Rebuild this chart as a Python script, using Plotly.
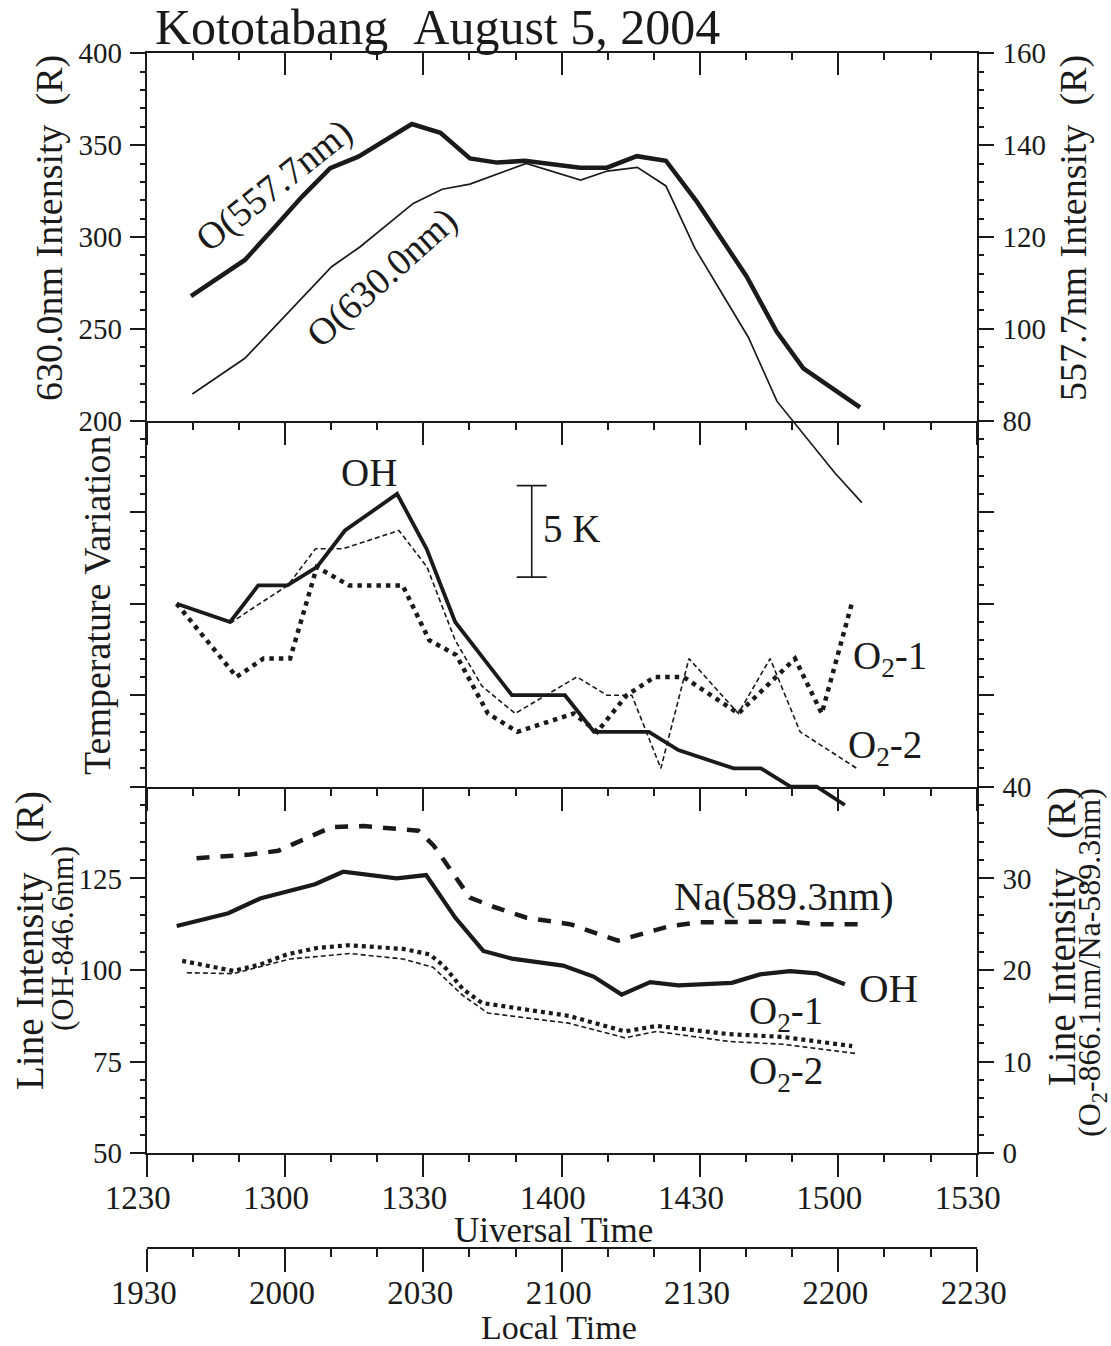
import plotly.graph_objects as go

# ---------------------------------------------------------------
# Kototabang airglow, August 5, 2004
# time axis: minutes after 12:30 UT (local time = UT + 7 h)
# ---------------------------------------------------------------

# top panel: O(557.7nm) intensity (R, right axis)
t_5577 = [9.6, 21.3, 27.8, 33.7, 39.8, 45.9, 57.5, 63.7, 70.1, 76.0, 82.0,
          94.0, 99.8, 106.3, 112.6, 119.3, 130.1, 136.6, 142.4, 154.7]
i_5577 = [107.1, 115.0, 122.2, 128.8, 135.0, 137.5, 144.6, 142.7, 137.1, 136.2,
          136.6, 135.1, 135.1, 137.6, 136.6, 127.7, 111.4, 99.4, 91.4, 82.9]

# top panel: O(630.0nm) intensity (R, left axis)
t_6300 = [9.9, 21.3, 40.1, 46.3, 57.8, 64.1, 70.1, 82.3, 94.1, 99.9, 106.4,
          112.6, 118.9, 130.5, 136.7, 149.3, 155.1]
i_6300 = [214.5, 234.0, 283.8, 294.7, 318.3, 326.0, 328.8, 340.1, 331.0, 335.9,
          337.9, 327.8, 293.8, 245.3, 210.5, 171.4, 155.4]

# middle panel: rotational temperature variation (K, relative)
t_oh_T = [6.5, 18.1, 24.2, 30.5, 36.9, 43.0, 54.3, 60.7, 66.9, 79.2, 90.7,
          97.0, 108.9, 115.3, 127.3, 133.2, 139.6, 145.3, 151.4]
oh_T = [10, 9, 11, 11, 12, 14, 16, 13, 9, 5, 5, 3, 3, 2, 1, 1, 0, 0, -1]

t_o21_T = [6.5, 19.5, 25.3, 31.1, 36.9, 43.9, 55.5, 61.3, 67.1, 74.0, 80.4,
           92.6, 97.7, 104.1, 110.2, 116.4, 128.3, 140.6, 146.4, 152.9]
o21_T = [10, 6, 7, 7, 12, 11, 11, 8, 7.2, 4, 3, 4, 3, 5, 6, 6, 4, 7, 4, 10]

t_o22_T = [6.5, 18.5, 24.5, 30.6, 36.6, 42.6, 54.7, 60.8, 66.9, 72.7, 79.9,
           93.3, 99.8, 105.2, 111.5, 117.6, 128.3, 135.2, 141.7, 154.0]
o22_T = [10, 9, 10, 11, 13, 13, 14, 12, 8, 5.5, 4, 6, 5, 5, 1, 7, 4, 7, 3, 1]

# 5 K scale bar (time, lower end, length)
bar_t, bar_low, bar_len = 83.5, 11.45, 5.0

# bottom panel: line intensities
t_oh_I = [6.5, 17.7, 24.6, 30.4, 36.5, 42.6, 54.2, 60.6, 66.9, 73.0, 79.2,
          90.3, 96.9, 103.0, 109.2, 115.3, 126.9, 133.0, 139.5, 145.3, 151.4]
oh_I = [112.0, 115.5, 119.5, 121.3, 123.4, 126.8, 125.0, 125.9, 114.3, 105.2,
        103.1, 101.2, 98.2, 93.3, 96.7, 95.8, 96.5, 98.8, 99.7, 99.1, 96.1]

t_na = [10.8, 22.4, 28.5, 34.7, 40.1, 47.0, 58.9, 62.2, 70.1, 75.2, 82.4,
        91.8, 102.2, 113.5, 120.0, 138.8, 145.3, 155.8]
na_I = [32.2, 32.6, 33.0, 34.4, 35.6, 35.7, 35.2, 33.6, 27.9, 26.9, 25.7,
        25.0, 23.2, 24.8, 25.2, 25.3, 25.0, 25.0]

t_o21_I = [7.7, 18.8, 24.6, 30.4, 36.9, 43.7, 55.6, 61.4, 64.5, 68.6, 72.7,
           91.5, 103.7, 110.6, 126.3, 137.9, 153.0]
o21_I = [21.0, 19.9, 20.6, 21.7, 22.4, 22.7, 22.3, 21.7, 20.4, 17.9, 16.4,
         15.0, 13.3, 13.9, 13.0, 12.7, 11.7]

t_o22_I = [8.7, 18.8, 31.1, 44.1, 55.6, 62.1, 68.6, 74.0, 91.5, 103.7, 110.6,
           126.3, 137.9, 153.6]
o22_I = [19.7, 19.6, 21.2, 21.8, 21.2, 20.3, 17.2, 15.3, 14.2, 12.6, 13.3,
         12.2, 11.9, 10.9]

# tick labels
time_ticks = [0, 30, 60, 90, 120, 150, 180]
ut_labels = ["1230", "1300", "1330", "1400", "1430", "1500", "1530"]
lt_labels = ["1930", "2000", "2030", "2100", "2130", "2200", "2230"]

# ---------------------------------------------------------------
# page geometry (pixels -> paper fractions)
W, H = 1111, 1346
def fx(px):
    return px / W
def fy(py):
    return 1 - py / H

X0, X1 = 146.7, 976.7
Y_TOP, Y_B1, Y_B2, Y_BOT = 53.3, 420.7, 786.7, 1153.3
Y_LT = 1248.3

xdom = [fx(X0), fx(X1)]
top_dom = [fy(Y_B1), fy(Y_TOP)]
mid_dom = [fy(Y_B2), fy(Y_B1)]
bot_dom = [fy(Y_BOT), fy(Y_B2)]

# lines that run past the bottom of their panel use taller hidden axes
ext630_dom = [fy(Y_B2), fy(Y_TOP)]
ext630_lo = 400 - 200 * (Y_B2 - Y_TOP) / (Y_B1 - Y_TOP)
extT_dom = [fy(Y_BOT), fy(Y_B1)]
extT_lo = 20 - 20 * (Y_BOT - Y_B1) / (Y_B2 - Y_B1)

INK = "#1a1a1a"
FONT = "Liberation Serif, Times New Roman, serif"

fig = go.Figure()

def line(x, y, xa, ya, width, dash="solid"):
    fig.add_trace(go.Scatter(x=x, y=y, xaxis=xa, yaxis=ya, mode="lines",
                             line=dict(color=INK, width=width, dash=dash),
                             showlegend=False, hoverinfo="skip"))

def blank(xa, ya):
    fig.add_trace(go.Scatter(x=[None], y=[None], xaxis=xa, yaxis=ya,
                             mode="lines", showlegend=False, hoverinfo="skip"))

# top panel
line(t_6300, i_6300, "x3", "y7", 1.7)
line(t_5577, i_5577, "x3", "y2", 4.5)
blank("x3", "y")
blank("x4", "y")

# middle panel
line(t_o22_T, o22_T, "x2", "y8", 1.6, "5px,3px")
line(t_o21_T, o21_T, "x2", "y8", 4.5, "4.5px,5px")
line(t_oh_T, oh_T, "x2", "y8", 3.8)
fig.add_trace(go.Scatter(
    x=[bar_t], y=[bar_low + bar_len / 2], xaxis="x2", yaxis="y8",
    mode="markers", marker=dict(size=0.1, color=INK),
    error_y=dict(type="data", array=[bar_len / 2], symmetric=True,
                 color=INK, thickness=1.6, width=15),
    showlegend=False, hoverinfo="skip"))
blank("x2", "y3")
blank("x2", "y4")

# bottom panel
line(t_na, na_I, "x", "y6", 4.5, "13px,11px")
line(t_o22_I, o22_I, "x", "y6", 1.6, "5px,3px")
line(t_o21_I, o21_I, "x", "y6", 4.2, "4px,4px")
line(t_oh_I, oh_I, "x", "y5", 4.2)
blank("x5", "y5")

# ---------------------------------------------------------------
# axes
minor_t = [m for m in range(0, 181, 10) if m % 30]

def xax(anchor, labels=None, ticks="outside", **kw):
    d = dict(domain=xdom, range=[0, 180], anchor=anchor, showgrid=False,
             zeroline=False, showline=True, linecolor=INK, linewidth=2,
             automargin=False,
             ticks=ticks, ticklen=22, tickwidth=2, tickcolor=INK,
             tickmode="array", tickvals=time_ticks,
             ticktext=labels if labels else [""] * len(time_ticks),
             showticklabels=labels is not None,
             tickfont=dict(family=FONT, size=33, color=INK),
             ticklabelstandoff=-8, ticklabelshift=-9,
             minor=dict(tickmode="array", tickvals=minor_t, ticks=ticks,
                        ticklen=7, tickwidth=2, tickcolor=INK),
             fixedrange=True)
    d.update(kw)
    return d

def yax(dom, rng, major, minor, anchor, side="left", labels=True,
        ticktext=None, **kw):
    d = dict(domain=dom, range=rng, anchor=anchor, side=side, showgrid=False,
             zeroline=False, showline=True, linecolor=INK, linewidth=2,
             automargin=False,
             ticks="outside", ticklen=15, tickwidth=2, tickcolor=INK,
             tickmode="array", tickvals=major,
             showticklabels=labels,
             tickfont=dict(family=FONT, size=29, color=INK),
             ticklabelstandoff=2 if side == "left" else 3,
             minor=dict(tickmode="array", tickvals=minor, ticks="outside",
                        ticklen=5, tickwidth=2, tickcolor=INK),
             fixedrange=True)
    if ticktext is not None:
        d["ticktext"] = ticktext
    d.update(kw)
    return d

fig.update_layout(
    template="none",
    width=W, height=H,
    margin=dict(l=0, r=0, t=0, b=0, pad=0, autoexpand=False),
    paper_bgcolor="white", plot_bgcolor="rgba(0,0,0,0)",
    font=dict(family=FONT, color=INK),
    showlegend=False,
    xaxis=xax("y5", ut_labels),
    xaxis2=xax("y3"),
    xaxis3=xax("y"),
    xaxis4=xax("y", ticks="inside", side="top", overlaying="x3"),
    xaxis5=xax("free", lt_labels, position=fy(Y_LT), ticklen=23,
               ticklabelshift=-3,
               minor=dict(tickmode="array", tickvals=minor_t, ticks="outside",
                          ticklen=8, tickwidth=2, tickcolor=INK)),
    yaxis=yax(top_dom, [200, 400], list(range(200, 401, 50)),
              [v for v in range(200, 401, 10) if v % 50], "x3"),
    yaxis2=yax(top_dom, [80, 160], list(range(80, 161, 20)),
               [v for v in range(80, 161, 4) if v % 20], "x3", side="right",
               overlaying="y"),
    yaxis3=yax(mid_dom, [0, 20], [0, 5, 10, 15, 20],
               [v for v in range(0, 21) if v % 5], "x2", labels=False),
    yaxis4=yax(mid_dom, [0, 20], [0, 5, 10, 15, 20],
               [v for v in range(0, 21) if v % 5], "x2", side="right",
               labels=False, overlaying="y3"),
    yaxis5=yax(bot_dom, [50, 150], [50, 75, 100, 125, 150],
               [v for v in range(50, 151, 5) if v % 25], "x",
               ticktext=["50", "75", "100", "125", ""]),
    yaxis6=yax(bot_dom, [0, 40], [0, 10, 20, 30, 40],
               [v for v in range(0, 41, 2) if v % 10], "x", side="right",
               overlaying="y5"),
    yaxis7=dict(domain=ext630_dom, range=[ext630_lo, 400], anchor="x3",
                visible=False, fixedrange=True),
    yaxis8=dict(domain=extT_dom, range=[extT_lo, 20], anchor="x2",
                visible=False, fixedrange=True),
)

# ---------------------------------------------------------------
# text
def note(text, px, py, size=38, angle=0, xanchor="center", yanchor="middle"):
    fig.add_annotation(text=text, x=fx(px), y=fy(py), xref="paper",
                       yref="paper", showarrow=False, textangle=angle,
                       xanchor=xanchor, yanchor=yanchor,
                       font=dict(family=FONT, size=size, color=INK))

NB = "\u00a0"
note("Kototabang" + NB + NB + "August 5, 2004", 153, 27, size=50,
     xanchor="left")

note("630.0nm Intensity" + NB + NB + "(R)", 49, 228, angle=-90)
note("557.7nm Intensity" + NB + NB + "(R)", 1073, 228, angle=-90)
note("Temperature Variation", 97, 605, angle=-90)
note("Line Intensity" + NB + NB + NB + "(R)", 30, 941, size=39, angle=-90)
note("(OH-846.6nm)", 62, 939, size=31, angle=-90)
note("Line Intensity" + NB + NB + NB + "(R)", 1062, 937, size=39, angle=-90)
note("(O<sub>2</sub>-866.1nm/Na-589.3nm)", 1091, 963, size=32, angle=-90)

note("Uiversal Time", 553, 1230, size=35)
note("Local Time", 559, 1327, size=34)

note("O(557.7nm)", 274, 186, angle=-38.5)
note("O(630.0nm)", 382, 278, angle=-42)

note("OH", 369, 473, size=39)
note("5 K", 541, 529, size=39, xanchor="left")
note("O<sub>2</sub>-1", 851, 658, size=39, xanchor="left")
note("O<sub>2</sub>-2", 846, 747, size=39, xanchor="left")

note("Na(589.3nm)", 672, 896, size=41, xanchor="left")
note("OH", 857, 988, size=41, xanchor="left")
note("O<sub>2</sub>-1", 747, 1013, size=39, xanchor="left")
note("O<sub>2</sub>-2", 747, 1073, size=39, xanchor="left")

fig.write_html("out.html")
